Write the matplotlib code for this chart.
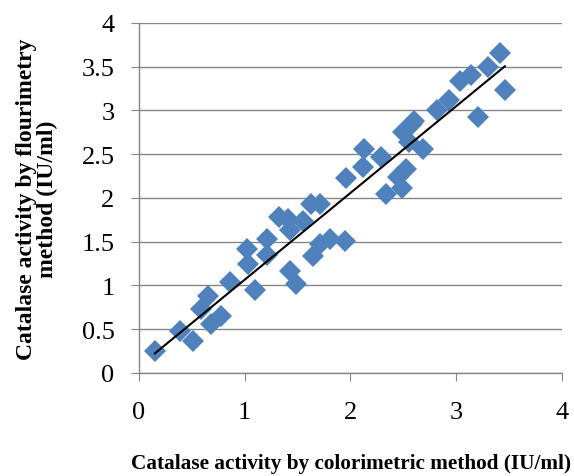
import numpy as np
import matplotlib.pyplot as plt

# 数据点 (colorimetric vs flourimetry)
X = np.array([0.15, 0.39, 0.51, 0.59, 0.65, 0.68, 0.78, 0.86, 1.02, 1.03,
              1.10, 1.21, 1.21, 1.32, 1.41, 1.43, 1.43, 1.49, 1.55, 1.63,
              1.71, 1.65, 1.71, 1.81, 1.95, 1.96, 2.12, 2.13, 2.29, 2.34,
              2.45, 2.49, 2.53, 2.50, 2.55, 2.58, 2.60, 2.69, 2.82, 2.93,
              3.04, 3.14, 3.21, 3.30, 3.41, 3.46])
Y = np.array([0.25, 0.48, 0.36, 0.73, 0.88, 0.56, 0.65, 1.04, 1.42, 1.25,
              0.95, 1.53, 1.35, 1.78, 1.76, 1.63, 1.17, 1.02, 1.74, 1.93,
              1.93, 1.34, 1.47, 1.53, 1.51, 2.23, 2.35, 2.56, 2.47, 2.05,
              2.24, 2.11, 2.33, 2.75, 2.64, 2.85, 2.88, 2.56, 3.01, 3.12,
              3.34, 3.40, 2.92, 3.50, 3.66, 3.23])

coefficients = np.polyfit(X, Y, 1)
slope = coefficients[0]
intercept = coefficients[1]
X_line = np.array([X.min(), X.max()])
Y_fit = slope * X_line + intercept

plt.rcParams['font.family'] = ['Liberation Serif', 'DejaVu Serif']

fig = plt.figure(figsize=(5.74, 4.77), dpi=100)
ax = fig.add_axes([0.242, 0.216, 0.737, 0.734])

ax.plot(X, Y, 'D', color='#4F81BD', markersize=11, markeredgewidth=0, zorder=3)
ax.plot(X_line, Y_fit, color='black', linewidth=1.5, zorder=4)

ax.set_xlim(0, 4)
ax.set_ylim(0, 4)
ax.set_xticks(np.arange(0, 5, 1))
ax.set_yticks(np.arange(0, 4.5, 0.5))
ax.set_yticklabels(['0', '0.5', '1', '1.5', '2', '2.5', '3', '3.5', '4'])
ax.yaxis.grid(True, color='#868686', linewidth=1)
ax.set_axisbelow(True)
for s in ['top', 'right']:
    ax.spines[s].set_visible(False)
for s in ['left', 'bottom']:
    ax.spines[s].set_color('#868686')
    ax.spines[s].set_linewidth(1)
ax.tick_params(direction='out', length=5.5, color='#868686', labelsize=19)
ax.tick_params(axis='y', pad=12)
ax.tick_params(axis='x', pad=15)

fig.text(0.612, 0.027, 'Catalase activity by colorimetric method (IU/ml)',
         ha='center', va='center', fontsize=15.3, fontweight='bold')
fig.text(0.064, 0.583, 'Catalase activity by flourimetry\nmethod (IU/ml)',
         ha='center', va='center', rotation=90, fontsize=17,
         fontweight='bold', linespacing=1.0)

fig.savefig('out.png', dpi=100)
